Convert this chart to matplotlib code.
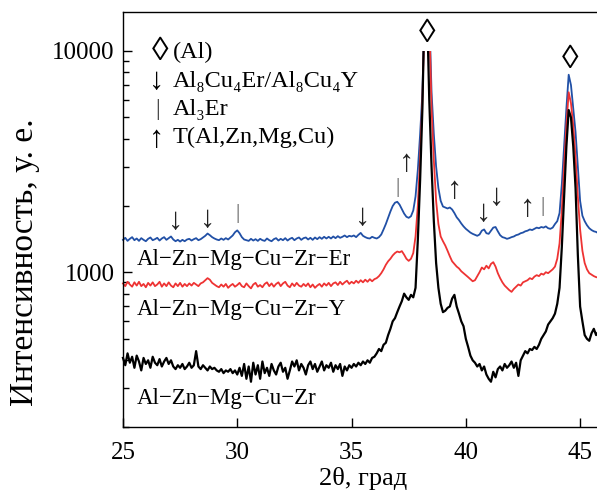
import numpy as np
import matplotlib
matplotlib.use('Agg')
import matplotlib.pyplot as plt
from matplotlib.patches import Rectangle
from matplotlib.ticker import FixedLocator, NullFormatter, FuncFormatter

plt.rcParams['font.family'] = ['Liberation Serif', 'DejaVu Serif']

# 2theta grid, step 0.1 deg
two_theta = np.round(np.arange(25.0, 46.01, 0.1), 1)

# Al-Zn-Mg-Cu-Zr-Er (blue)
i_er = [
    1400, 1430, 1385, 1415, 1440, 1395, 1420, 1385, 1425, 1400,
    1380, 1415, 1435, 1395, 1410, 1430, 1390, 1420, 1440, 1400,
    1425, 1450, 1405, 1380, 1400, 1375, 1400, 1380, 1405, 1415,
    1390, 1410, 1425, 1395, 1410, 1435, 1460, 1495, 1470, 1440,
    1420, 1405, 1395, 1420, 1400, 1425, 1405, 1435, 1465, 1515,
    1545, 1500, 1440, 1405, 1395, 1385, 1415, 1390, 1410, 1385,
    1415, 1395, 1385, 1420, 1395, 1380, 1410, 1425, 1390, 1415,
    1395, 1425, 1390, 1415, 1430, 1395, 1420, 1435, 1400, 1425,
    1435, 1405, 1430, 1400, 1435, 1410, 1440, 1415, 1445, 1420,
    1445, 1420, 1450, 1425, 1455, 1430, 1445, 1465, 1440, 1460,
    1450, 1465, 1440, 1475, 1505, 1460, 1440, 1425, 1420, 1445,
    1430, 1420, 1440, 1480, 1560, 1650, 1760, 1880, 1990, 2060,
    2080, 2020, 1930, 1840, 1780, 1760, 1790, 1900, 2200, 2900,
    4200, 6500, 15500, 25000, 15000, 6500, 4200, 3000, 2400, 2100,
    1980, 1960, 1940, 1960, 1920, 1850, 1770, 1720, 1660, 1610,
    1570, 1540, 1510, 1490, 1475, 1460, 1480, 1540, 1560, 1500,
    1490, 1540, 1590, 1600, 1530, 1470, 1440, 1430, 1415, 1425,
    1440, 1450, 1470, 1480, 1500, 1510, 1530, 1540, 1560, 1550,
    1570, 1590, 1580, 1600, 1590, 1610, 1580, 1570, 1590, 1650,
    1700, 1850, 2500, 3700, 5500, 7800, 7000, 5500, 4300, 3000,
    2100, 1800, 1700, 1630, 1580, 1550, 1530, 1520, 1500, 1490,
    1480,
]

# Al-Zn-Mg-Cu-Zr-Y (red)
i_y = [
    890, 865, 905, 880, 860, 900, 870, 905, 865, 885,
    855, 895, 870, 900, 865, 880, 905, 860, 890, 865,
    900, 870, 855, 890, 865, 895, 860, 885, 865, 890,
    870, 895, 880, 865, 890, 900, 920, 940, 925, 895,
    880, 865, 855, 880, 860, 885, 850, 870, 885, 860,
    875, 895, 865, 855, 890, 865, 845, 880, 895, 860,
    875, 855, 885, 900, 865, 890, 860, 885, 900, 865,
    890, 905, 870, 855, 890, 865, 895, 870, 860, 885,
    865, 890, 855, 880, 850, 870, 885, 860, 890, 870,
    895, 865, 890, 900, 875, 905, 880, 900, 915, 885,
    905, 890, 915, 895, 920, 900, 925, 905, 930, 910,
    930, 940, 960, 990, 1030, 1080, 1120, 1150, 1190, 1220,
    1240, 1230, 1245, 1200, 1150, 1125, 1150, 1220, 1450, 2000,
    3300, 6000, 15000, 25000, 14000, 5500, 3200, 2100, 1650, 1450,
    1380, 1320, 1250, 1180, 1120, 1090, 1060, 1040, 1010, 990,
    970, 950, 930, 910, 920, 960, 1000, 1050, 1030, 1070,
    1040, 1090, 1110, 1060, 990, 940, 900, 870, 850, 830,
    815, 840, 860, 880, 870, 900, 910, 920, 940, 930,
    955, 970, 960, 985, 975, 1000, 990, 1010, 1030, 1060,
    1150, 1350, 1900, 3000, 4600, 6500, 5800, 4600, 3300, 2200,
    1560, 1250, 1100, 1030, 990, 975, 960, 950, 945, 940,
    935,
]

# Al-Zn-Mg-Cu-Zr (black)
i_zr = [
    410, 380, 430, 390, 415, 370, 420, 395, 360, 410,
    385, 400, 370, 415, 390, 380, 405, 375, 395, 410,
    385, 400, 375, 365, 380, 370, 385, 365, 375, 390,
    370, 380, 440, 375, 365, 380, 370, 360, 375, 365,
    370, 360, 355, 365, 350, 360, 355, 365, 350, 360,
    345, 370, 340, 385, 330, 375, 320, 390, 345, 380,
    330, 395, 350, 370, 340, 385, 360, 345, 375, 390,
    355, 370, 330, 360, 395, 375, 400, 360, 385, 370,
    345, 380, 395, 365, 385, 355, 375, 395, 360, 380,
    370, 390, 355, 380, 365, 385, 340, 375, 360, 380,
    370, 385, 375, 390, 380, 395, 385, 400, 390, 410,
    415, 430, 450, 440, 470, 480, 520, 555, 600, 620,
    660, 700, 740, 800, 770, 750, 790, 770, 850, 1400,
    2600, 5500, 18000, 16000, 6000, 3000, 1700, 1100, 850, 720,
    660, 670, 690, 700, 760, 790, 700, 650, 600, 570,
    500, 460, 420, 400, 390, 375, 385, 360, 375, 345,
    330, 320, 355, 335, 365, 375, 360, 385, 370, 380,
    395, 370, 390, 340, 400, 420, 440, 430, 450, 445,
    460, 450, 470, 500, 520, 540, 580, 600, 620, 650,
    720, 850, 1300, 2200, 3700, 5400, 5000, 3700, 2400, 1200,
    700, 600, 520, 500, 490, 530, 555, 520, 540, 530,
    520,
]

alloy_names = ['Al−Zn−Mg−Cu−Zr−Er', 'Al−Zn−Mg−Cu−Zr−Y', 'Al−Zn−Mg−Cu−Zr']
label_pos = [(25.6, 1075), (25.6, 640), (25.6, 254)]

# phase marks: (2theta, intensity at symbol centre, symbol)
al_peaks = [(38.3, 12000), (44.55, 9100)]
phase_marks = [
    (27.28, 1697, '↓'), (28.72, 1734, '↓'), (30.03, 1845, '|'),
    (35.48, 1770, '↓'), (37.0, 2415, '|'), (37.4, 3100, '↑'),
    (39.5, 2340, '↑'), (40.76, 1845, '↓'), (41.33, 2175, '↓'),
    (42.7, 1940, '↑'), (43.35, 1980, '|'),
]

legend_syms = ['◊', '↓', '|', '↑']
legend_labels = ['(Al)', 'Al₈Cu₄Er/Al₈Cu₄Y', 'Al₃Er', 'T(Al,Zn,Mg,Cu)']

fig = plt.figure(figsize=(5.97, 4.93), dpi=100)
ax = fig.add_axes([0.206, 0.134, 0.804, 0.842])

clip = Rectangle((20, 1), 30, 10000 - 1, transform=ax.transData)
for y, c, lw in [(i_er, '#2150a6', 1.3), (i_y, '#ee3333', 1.3), (i_zr, 'black', 1.6)]:
    ln, = ax.plot(two_theta, y, color=c, lw=lw)
    ln.set_clip_path(clip)

ax.set_yscale('log')
ax.set_xlim(25, 46)
ax.set_ylim(200, 15000)

for name, (x, y) in zip(alloy_names, label_pos):
    ax.text(x, y, name, fontsize=16.5, va='baseline', ha='left')

for x, y in al_peaks:
    ax.text(x, y, '◊', fontsize=24, ha='center', va='center')
for x, y, s in phase_marks:
    if s == '|':
        ax.text(x, y, s, fontsize=15, ha='center', va='center', color='#555555')
    else:
        ax.text(x, y, s, fontsize=22, ha='center', va='center', color='#222222')

# legend block (axes fraction)
sym_pos = [(0.077, 0.904), (0.069, 0.831), (0.073, 0.764), (0.069, 0.692)]
base = [0.889, 0.819, 0.752, 0.684]
for k, (sym, txt) in enumerate(zip(legend_syms, legend_labels)):
    fs = {'◊': 24, '|': 17}.get(sym, 22)
    ax.text(sym_pos[k][0], sym_pos[k][1], sym, transform=ax.transAxes, fontsize=fs,
            ha='center', va='center', color='#333333' if sym == '|' else 'black')
    ax.text(0.103, base[k], txt, transform=ax.transAxes, fontsize=17.5, ha='left',
            va='baseline')

ax.xaxis.set_major_locator(FixedLocator([25, 30, 35, 40, 45]))
ax.yaxis.set_major_formatter(FuncFormatter(lambda v, p: '%d' % v))
ax.yaxis.set_minor_formatter(NullFormatter())
ax.tick_params(which='major', direction='in', length=6.5, width=1, labelsize=18)
ax.tick_params(axis='x', pad=11)
ax.tick_params(axis='y', pad=6)
ax.tick_params(which='minor', direction='in', length=4.5, width=1)
ax.spines['right'].set_visible(False)
for s in ['left', 'bottom', 'top']:
    ax.spines[s].set_linewidth(1.0)

ax.set_xlabel('2θ, град', fontsize=19, labelpad=2)
fig.text(0.042, 1 - 262 / 493, 'Интенсивность, у. е.', rotation=90, fontsize=24,
         ha='center', va='center')

fig.savefig('out.png', dpi=100)
